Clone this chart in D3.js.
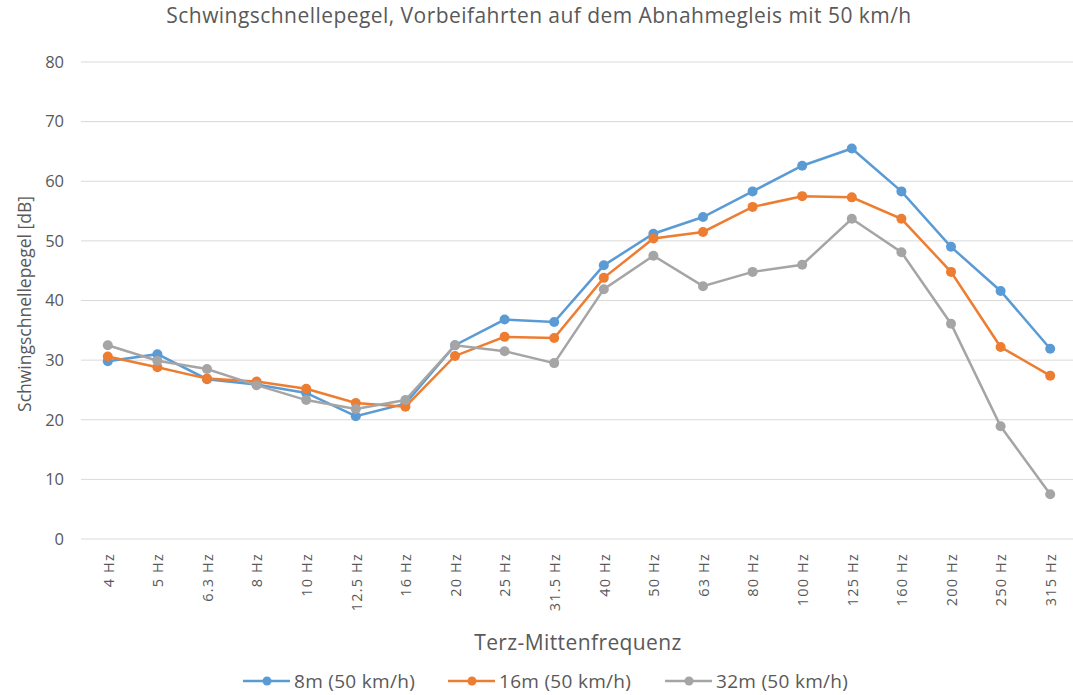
<!DOCTYPE html>
<html lang="de">
<head>
<meta charset="UTF-8">
<title>Schwingschnellepegel</title>
<script src="https://d3js.org/d3.v7.min.js"></script>
<style>
  body { margin: 0; background: #fff; font-family: "Open Sans", Arial, sans-serif; }
  svg text { fill: #595959; }
</style>
</head>
<body>
<svg width="1073" height="695"></svg>
<script>
// Terzbänder
const bands = ["4 Hz", "5 Hz", "6.3 Hz", "8 Hz", "10 Hz", "12.5 Hz", "16 Hz", "20 Hz", "25 Hz", "31.5 Hz",
  "40 Hz", "50 Hz", "63 Hz", "80 Hz", "100 Hz", "125 Hz", "160 Hz", "200 Hz", "250 Hz", "315 Hz"];

const seriesNames = ["8m (50 km/h)", "16m (50 km/h)", "32m (50 km/h)"];
const seriesColors = ["#5B9BD5", "#ED7D31", "#A5A5A5"];

const v8m  = [29.8, 31.0, 26.8, 25.9, 24.5, 20.6, 22.7, 32.5, 36.8, 36.4, 45.9, 51.2, 54.0, 58.3, 62.6, 65.5, 58.3, 49.0, 41.6, 31.9];
const v16m = [30.6, 28.8, 26.9, 26.4, 25.2, 22.8, 22.2, 30.7, 33.9, 33.7, 43.8, 50.4, 51.5, 55.7, 57.5, 57.3, 53.7, 44.8, 32.2, 27.4];
const v32m = [32.5, 29.9, 28.5, 25.8, 23.3, 21.8, 23.3, 32.5, 31.5, 29.5, 41.9, 47.5, 42.4, 44.8, 46.0, 53.7, 48.1, 36.1, 18.9, 7.5];

const yTicks = [0, 10, 20, 30, 40, 50, 60, 70, 80];

const series = [v8m, v16m, v32m].map((vals, i) => ({
  name: seriesNames[i], color: seriesColors[i],
  values: vals.map((v, j) => ({ band: bands[j], value: v }))
}));

const svg = d3.select("svg");
const plot = { left: 83, right: 1075, top: 62, bottom: 539 };

const x = d3.scaleBand().domain(bands).range([plot.left, plot.right]);
const y = d3.scaleLinear().domain([0, 80]).range([plot.bottom, plot.top]);

// Gitterlinien
svg.append("g")
  .selectAll("line")
  .data(yTicks)
  .join("line")
  .attr("x1", plot.left - 2).attr("x2", plot.right)
  .attr("y1", d => y(d)).attr("y2", d => y(d))
  .attr("stroke", "#D9D9D9").attr("stroke-width", 1);

// y-Achse
const yAxis = svg.append("g")
  .attr("transform", `translate(${plot.left},0)`)
  .call(d3.axisLeft(y).tickValues(yTicks).tickSize(0).tickPadding(19));
yAxis.select(".domain").remove();
yAxis.selectAll("text").style("font-size", "16.5px").style("font-family", "Open Sans, sans-serif").attr("fill", "#595959");

// x-Achse
const xAxis = svg.append("g")
  .attr("transform", `translate(0,${plot.bottom})`)
  .call(d3.axisBottom(x).tickSize(0));
xAxis.select(".domain").remove();
xAxis.selectAll("text")
  .style("font-size", "14.5px").style("font-family", "Open Sans, sans-serif")
  .style("letter-spacing", "1.2px")
  .attr("fill", "#595959")
  .attr("text-anchor", "end")
  .attr("dy", "0.4em")
  .attr("transform", "translate(0,14) rotate(-90)")
  .attr("x", 0).attr("y", 0);

// Linien und Punkte (spätere Reihe liegt oben)
const line = d3.line()
  .x(d => x(d.band) + x.bandwidth() / 2)
  .y(d => y(d.value));

const g = svg.append("g");
series.forEach(s => {
  g.append("path")
    .datum(s.values)
    .attr("fill", "none")
    .attr("stroke", s.color)
    .attr("stroke-width", 2.5)
    .attr("d", line);
  g.selectAll(null)
    .data(s.values)
    .join("circle")
    .attr("cx", d => x(d.band) + x.bandwidth() / 2)
    .attr("cy", d => y(d.value))
    .attr("r", 5)
    .attr("fill", s.color);
});

// Titel
svg.append("text")
  .attr("x", 539).attr("y", 23)
  .attr("text-anchor", "middle")
  .style("font-size", "21px")
  .style("letter-spacing", "0.45px")
  .text("Schwingschnellepegel, Vorbeifahrten auf dem Abnahmegleis mit 50 km/h");

svg.append("text")
  .attr("transform", `translate(31,304) rotate(-90)`)
  .attr("text-anchor", "middle")
  .style("font-size", "17.5px")
  .text("Schwingschnellepegel [dB]");

svg.append("text")
  .attr("x", 578).attr("y", 650)
  .attr("text-anchor", "middle")
  .style("font-size", "21px")
  .style("letter-spacing", "0.4px")
  .text("Terz-Mittenfrequenz");

// Legende
const legendX = [243, 448, 665];
const legend = svg.append("g");
series.forEach((s, i) => {
  const lg = legend.append("g").attr("transform", `translate(${legendX[i]},681)`);
  lg.append("line").attr("x1", 0).attr("x2", 47).attr("stroke", s.color).attr("stroke-width", 2.5);
  lg.append("circle").attr("cx", 24).attr("r", 4.5).attr("fill", s.color);
  lg.append("text").attr("x", 51).attr("y", 7).style("font-size", "19px")
    .style("letter-spacing", "0.3px").text(s.name);
});
</script>
</body>
</html>
